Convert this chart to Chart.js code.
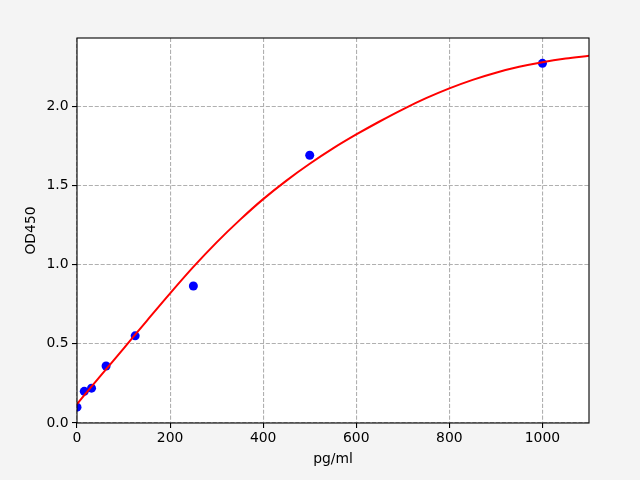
<!DOCTYPE html>
<html>
<head>
<meta charset="utf-8">
<script src="https://cdn.jsdelivr.net/npm/chart.js@4"></script>
<style>
html,body{margin:0;padding:0;background:#f4f4f4;}
#wrap{width:640px;height:480px;}
</style>
</head>
<body>
<div id="wrap"><canvas id="c" width="640" height="480"></canvas></div>
<script>
const concentrations = [0, 15.6, 31.25, 62.5, 125, 250, 500, 1000];
const odValues = [0.10, 0.20, 0.22, 0.36, 0.55, 0.865, 1.69, 2.27];
const curveX = [0, 50, 100, 150, 200, 250, 300, 350, 400, 450, 500, 550, 600, 650, 700, 750, 800, 850, 900, 950, 1000, 1050, 1100];
const curveY = [0.120, 0.296, 0.470, 0.645, 0.818, 0.985, 1.140, 1.282, 1.413, 1.530, 1.636, 1.733, 1.821, 1.903, 1.980, 2.050, 2.112, 2.166, 2.211, 2.248, 2.277, 2.300, 2.318];
const xTicks = [0, 200, 400, 600, 800, 1000];
const yTicks = [0.0, 0.5, 1.0, 1.5, 2.0];
const xTitle = 'pg/ml';
const yTitle = 'OD450';

const FONT = {family: "'DejaVu Sans', sans-serif", size: 13.9};

const framePlugin = {
  id: 'frame',
  beforeDraw(chart) {
    const {ctx, chartArea: a} = chart;
    ctx.save();
    ctx.fillStyle = '#f4f4f4';
    ctx.fillRect(0, 0, chart.width, chart.height);
    ctx.fillStyle = '#ffffff';
    ctx.fillRect(a.left, a.top, a.right - a.left, a.bottom - a.top);
    ctx.restore();
  },
  afterDraw(chart) {
    const {ctx, chartArea: a} = chart;
    ctx.save();
    ctx.strokeStyle = '#000';
    ctx.lineWidth = 1.1;
    ctx.strokeRect(a.left, a.top, a.right - a.left, a.bottom - a.top);
    ctx.restore();
  }
};

const gridOpts = {color: '#b0b0b0', lineWidth: 1.1, tickColor: '#000', tickLength: 5, tickBorderDash: [], tickWidth: 1.1};
const borderOpts = {display: false, dash: [4.1, 1.8]};

new Chart(document.getElementById('c'), {
  type: 'scatter',
  data: {
    datasets: [
      {
        data: curveX.map((x, i) => ({x, y: curveY[i]})),
        showLine: true,
        borderColor: '#ff0000',
        borderWidth: 2,
        pointRadius: 0,
        cubicInterpolationMode: 'monotone',
        fill: false,
        clip: 0
      },
      {
        data: concentrations.map((x, i) => ({x, y: odValues[i]})),
        showLine: false,
        backgroundColor: '#0000ff',
        borderColor: '#0000ff',
        borderWidth: 0,
        pointRadius: 4.5,
        clip: 0
      }
    ]
  },
  options: {
    responsive: false,
    animation: false,
    devicePixelRatio: 1,
    layout: {padding: {left: 0, top: 38, right: 51, bottom: 0}},
    plugins: {legend: {display: false}, tooltip: {enabled: false}},
    scales: {
      x: {
        type: 'linear',
        min: 0, max: 1100,
        afterFit: s => { s.height = 57; },
        afterBuildTicks: s => { s.ticks = xTicks.map(v => ({value: v})); },
        ticks: {color: '#000', font: FONT, padding: 2, maxRotation: 0, callback: v => String(v)},
        grid: gridOpts,
        border: borderOpts,
        title: {display: true, text: xTitle, color: '#000', font: FONT, padding: {top: 0, bottom: 12.6}}
      },
      y: {
        type: 'linear',
        min: 0, max: 2.43,
        afterFit: s => { s.width = 77; },
        afterBuildTicks: s => { s.ticks = yTicks.map(v => ({value: v})); },
        ticks: {color: '#000', font: FONT, padding: 3.5, callback: v => Number(v).toFixed(1)},
        grid: gridOpts,
        border: borderOpts,
        title: {display: true, text: yTitle, color: '#000', font: FONT, padding: {top: 23.3, bottom: 0}}
      }
    }
  },
  plugins: [framePlugin]
});
</script>
</body>
</html>
